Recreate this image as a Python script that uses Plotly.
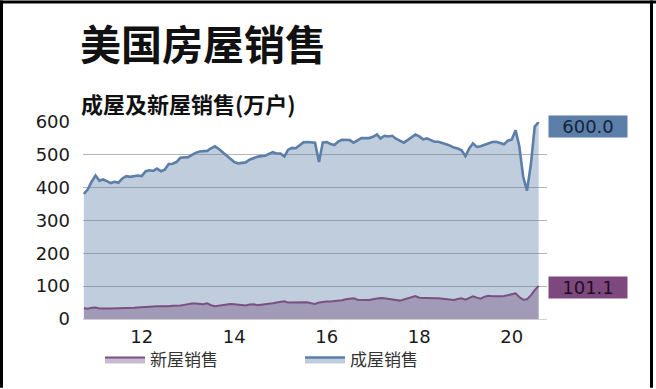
import pandas as pd
import plotly.graph_objects as go

# Monthly sales, Oct 2010 - Aug 2020, in 10k units (SAAR)
months = pd.date_range("2010-10-01", "2020-08-01", freq="MS")

existing_sales = [
    381, 395, 418, 437, 421, 425, 420, 414, 418, 415,
    428, 435, 433, 436, 437, 435, 450, 453, 451, 458,
    450, 455, 472, 473, 478, 491, 491, 493, 500, 506,
    510, 511, 512, 520, 526, 518, 508, 500, 488, 478,
    474, 476, 477, 485, 490, 494, 496, 497, 503, 508,
    504, 504, 495, 515, 521, 520, 529, 538, 539, 537,
    537, 478, 538, 539, 533, 530, 540, 546, 545, 545,
    537, 545, 551, 551, 551, 555, 562, 550, 558, 556,
    558, 549, 543, 537, 545, 553, 562, 556, 547, 550,
    546, 540, 540, 535, 532, 528, 522, 519, 514, 496,
    520, 535, 524, 526, 530, 535, 539, 540, 537, 532,
    543, 546, 575, 527, 433, 391, 472, 586, 600.0,
]

new_sales = [
    33, 31, 34, 35, 32, 31, 32, 32, 32, 32,
    33, 33, 33, 34, 35, 36, 38, 37, 38, 39,
    39, 38, 39, 40, 40, 41, 43, 46, 47, 47,
    46, 45, 48, 42, 39, 41, 44, 46, 46, 45,
    44, 43, 41, 44, 45, 42, 43, 45, 47, 48,
    50, 52, 54, 50, 50, 51, 50, 51, 51, 48,
    46, 50, 52, 53, 53, 54, 55, 57, 60, 62,
    63, 59, 58, 59, 58, 60, 62, 64, 63, 62,
    60, 58, 56, 59, 62, 67, 70, 65, 64, 64,
    64, 63, 63, 62, 61, 60, 58, 61, 63, 59,
    64, 69, 65, 62, 68, 71, 69, 68, 69, 70,
    73, 76, 78, 67, 59, 60, 72, 88, 101.1,
]

year_ticks = ["2012-01-01", "2014-01-01", "2016-01-01", "2018-01-01", "2020-01-01"]
year_labels = ["12", "14", "16", "18", "20"]
y_ticks = [0, 100, 200, 300, 400, 500, 600]

title_text = "美国房屋销售"
subtitle_text = "成屋及新屋销售(万户)"
existing_name = "成屋销售"
new_name = "新屋销售"

CJK = "Noto Sans CJK SC"
NUM = "DejaVu Sans"

fig = go.Figure()

fig.add_trace(go.Scatter(
    x=months, y=existing_sales, name=existing_name, mode="lines",
    line=dict(color="#5b7fa8", width=2.6),
    fill="tozeroy", fillcolor="rgba(91,127,168,0.39)",
    legendrank=2,
))
fig.add_trace(go.Scatter(
    x=months, y=new_sales, name=new_name, mode="lines",
    line=dict(color="#7a4f82", width=2),
    fill="tozeroy", fillcolor="rgba(120,80,130,0.40)",
    legendrank=1,
))

L, R, T, B = 83, 109, 122, 69
W, H = 656, 389
pw, ph = W - L - R, H - T - B


def px_x(p):
    return (p - L) / pw


def px_y(p):
    return (H - B - p) / ph


annotations = [
    dict(text=f"<b>{title_text}</b>", x=px_x(78), y=px_y(42), xref="paper", yref="paper",
         xanchor="left", yanchor="middle", showarrow=False,
         font=dict(family=CJK, size=41, color="#111111")),
    dict(text=f"<b>{subtitle_text}</b>", x=px_x(79), y=px_y(103), xref="paper", yref="paper",
         xanchor="left", yanchor="middle", showarrow=False,
         font=dict(family=CJK, size=22, color="#111111")),
    dict(text=f"{existing_sales[-1]:.1f}", x=px_x(548), y=existing_sales[-1], xref="paper", yref="y",
         xanchor="left", yanchor="middle", yshift=-4, showarrow=False,
         bgcolor="#5b7fa8", width=76, height=19, borderpad=1,
         font=dict(family=NUM, size=18, color="#14233a")),
    dict(text=f"{new_sales[-1]:.1f}", x=px_x(548), y=new_sales[-1], xref="paper", yref="y",
         xanchor="left", yanchor="middle", yshift=-2, showarrow=False,
         bgcolor="#7d487d", width=76, height=19, borderpad=1,
         font=dict(family=NUM, size=18, color="#1e0f1e")),
]

# frame around the figure: left, top, right edges
frame = [
    dict(type="rect", xref="paper", yref="paper", x0=px_x(0), x1=px_x(3), y0=px_y(H), y1=px_y(0),
         fillcolor="#000000", line=dict(width=0), layer="above"),
    dict(type="rect", xref="paper", yref="paper", x0=px_x(0), x1=px_x(W), y0=px_y(3), y1=px_y(0),
         fillcolor="#000000", line=dict(width=0), layer="above"),
    dict(type="rect", xref="paper", yref="paper", x0=px_x(650), x1=px_x(653), y0=px_y(H), y1=px_y(0),
         fillcolor="#000000", line=dict(width=0), layer="above"),
]

fig.update_layout(
    width=W, height=H,
    margin=dict(l=L, r=R, t=T, b=B, pad=0),
    paper_bgcolor="white", plot_bgcolor="white",
    showlegend=True,
    legend=dict(orientation="h", x=px_x(100), y=px_y(360), xanchor="left", yanchor="middle",
                font=dict(family=CJK, size=17, color="#333333"),
                entrywidth=145, itemwidth=40, bgcolor="rgba(0,0,0,0)"),
    annotations=annotations,
    shapes=frame,
    xaxis=dict(
        range=["2010-09-24", "2020-10-06"],
        tickvals=year_ticks, ticktext=year_labels,
        showgrid=False, zeroline=False, showline=True, linecolor="#d0d0d0", linewidth=1,
        ticks="", tickfont=dict(family=NUM, size=18, color="#1a1a1a"),
        ticklabelstandoff=1,
    ),
    yaxis=dict(
        range=[0, 600], tickvals=y_ticks,
        showgrid=True, gridcolor="#b4b4b4", gridwidth=1,
        zeroline=False, showline=False, ticks="",
        tickfont=dict(family=NUM, size=18, color="#1a1a1a"),
        ticklabelstandoff=12,
    ),
)

fig.write_html("out.html")
